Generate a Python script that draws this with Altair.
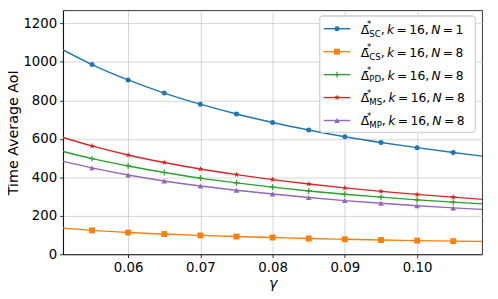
import math
import altair as alt
import pandas as pd

# ---------------- data ----------------
gamma = [0.051, 0.055, 0.060, 0.065, 0.070, 0.075, 0.080, 0.085, 0.090, 0.095, 0.100, 0.105, 0.109]
aoi_sc = [1062, 986, 906, 838, 780, 729, 685, 646, 611, 581, 554, 529, 510]
aoi_cs = [136, 124, 113, 105, 98, 92, 87, 82, 78, 74, 71, 68, 66]
aoi_pd = [534, 497, 459, 425, 396, 371, 349, 329, 312, 297, 283, 271, 262]
aoi_ms = [607, 563, 516, 477, 443, 414, 388, 365, 345, 327, 311, 297, 285]
aoi_mp = [483, 449, 412, 381, 355, 333, 313, 295, 279, 265, 252, 241, 233]

series_keys = ["SC", "CS", "PD", "MS", "MP"]
series_N = ["1", "8", "8", "8", "8"]
colors = ["#1f77b4", "#ff7f0e", "#2ca02c", "#d62728", "#9467bd"]
x_ticks = [0.06, 0.07, 0.08, 0.09, 0.10]
y_ticks = [0, 200, 400, 600, 800, 1000, 1200]

values = [aoi_sc, aoi_cs, aoi_pd, aoi_ms, aoi_mp]
rows = []
for key, vals in zip(series_keys, values):
    for g, v in zip(gamma, vals):
        rows.append({"series": key, "gamma": g, "aoi": v})
df = pd.DataFrame(rows)
df_mark = df[(df.gamma > 0.054) & (df.gamma < 0.106)]

# ---------------- styling ----------------
W, H = 426, 248
FONT = "DejaVu Sans"
color_scale = alt.Scale(domain=series_keys, range=colors)

pts = []
for k in range(10):
    a = -math.pi / 2 + k * math.pi / 5
    r = 1.0 if k % 2 == 0 else 0.40
    pts.append(f"{r*math.cos(a):.3f},{r*math.sin(a):.3f}")
star = "M" + "L".join(pts) + "Z"
plus = "M-1,0L1,0M0,-1L0,1"

marker_spec = {
    "SC": dict(shape="circle", size=26, filled=True),
    "CS": dict(shape="square", size=36, filled=True),
    "PD": dict(shape=plus, size=36, filled=False),
    "MS": dict(shape=star, size=40, filled=True),
    "MP": dict(shape="triangle-up", size=34, filled=True),
}


def mk(key):
    m = marker_spec[key]
    kw = dict(shape=m["shape"], size=m["size"], filled=m["filled"], opacity=1)
    kw["strokeWidth"] = 1.2 if not m["filled"] else 0
    return kw


xs = alt.X("gamma:Q", scale=alt.Scale(domain=[0.051, 0.109], nice=False, zero=False),
           axis=alt.Axis(values=x_ticks, format=".2f", title="γ", titleFontStyle="italic",
                         titlePadding=3))
ys = alt.Y("aoi:Q", scale=alt.Scale(domain=[0, 1268], nice=False),
           axis=alt.Axis(values=y_ticks, format="d", title="Time Average AoI", titlePadding=2))
col = alt.Color("series:N", scale=color_scale, legend=None)

base_chart = alt.Chart(df)
main_layers = [base_chart.mark_line(strokeWidth=1.4, interpolate="monotone", clip=True).encode(
    x=xs, y=ys, color=col, detail="series:N")]
for key in series_keys:
    main_layers.append(alt.Chart(df_mark[df_mark.series == key]).mark_point(**mk(key)).encode(
        x=xs, y=ys, color=col))
main = alt.layer(*main_layers)

# ---------------- custom legend ----------------
adv = {"Δ": 0.684, "S": 0.635, "C": 0.698, "P": 0.603, "D": 0.770, "M": 0.863,
       ",": 0.318, "k": 0.579, "=": 0.838, "1": 0.636, "6": 0.636, "8": 0.636, "N": 0.748}
fs = 12.5
ss = fs * 0.7
sp = 0.2 * 0.974 * fs
T = 302.7
row_base0, row_step = 23.7, 23.33

leg_rows, up_pieces, it_pieces = [], [], []
for i, key in enumerate(series_keys):
    base = row_base0 + row_step * i
    leg_rows.append({"series": key, "ly": base - 5.0})
    x = T
    up_pieces.append({"t": "Δ\u0304", "x": x, "y": base, "s": fs})
    x += adv["Δ"] * fs
    up_pieces.append({"t": "*", "x": x - 2.2, "y": base - 6.5, "s": ss})
    up_pieces.append({"t": key, "x": x, "y": base + 3.0, "s": ss})
    x += sum(adv[c] for c in key) * ss
    up_pieces.append({"t": ",", "x": x, "y": base, "s": fs})
    x += adv[","] * fs + sp
    it_pieces.append({"t": "k", "x": x, "y": base, "s": fs})
    x += adv["k"] * fs + sp
    up_pieces.append({"t": "=", "x": x, "y": base, "s": fs})
    x += adv["="] * fs + sp
    up_pieces.append({"t": "16,", "x": x, "y": base, "s": fs})
    x += (2 * adv["1"] + adv[","]) * fs + sp
    it_pieces.append({"t": "N", "x": x, "y": base, "s": fs})
    x += adv["N"] * fs + sp
    up_pieces.append({"t": "=", "x": x, "y": base, "s": fs})
    x += adv["="] * fs + sp
    up_pieces.append({"t": series_N[i], "x": x, "y": base, "s": fs})

leg_df = pd.DataFrame(leg_rows)
up_df = pd.DataFrame(up_pieces)
it_df = pd.DataFrame(it_pieces)

ly = alt.Y("ly:Q", scale=None, axis=None)
leg_layers = [
    alt.Chart(leg_df).mark_rect(fill="white", fillOpacity=0.85, stroke="#d0d0d0",
                                strokeWidth=1, cornerRadius=3).encode(
        x=alt.value(261), x2=alt.value(419), y=alt.value(6), y2=alt.value(124)),
    alt.Chart(leg_df).mark_rule(strokeWidth=1.4).encode(
        x=alt.value(265), x2=alt.value(292), y=ly, color=col),
]
for key in series_keys:
    leg_layers.append(alt.Chart(leg_df[leg_df.series == key]).mark_point(**mk(key)).encode(
        x=alt.value(278.5), y=ly, color=col))

tx = alt.X("x:Q", scale=None, axis=None)
ty = alt.Y("y:Q", scale=None, axis=None)
tsize = alt.Size("s:Q", scale=None, legend=None)
leg_layers.append(alt.Chart(up_df).mark_text(align="left", baseline="alphabetic", font=FONT,
                                             color="black").encode(
    x=tx, y=ty, text="t:N", size=tsize))
leg_layers.append(alt.Chart(it_df).mark_text(align="left", baseline="alphabetic", font=FONT,
                                             fontStyle="italic", color="black").encode(
    x=tx, y=ty, text="t:N", size=tsize))
legend = alt.layer(*leg_layers)

chart = alt.layer(main, legend).resolve_scale(x="independent", y="independent").properties(
    width=W, height=H,
    autosize=alt.AutoSizeParams(type="none"),
    padding={"left": 56, "top": 0, "right": 8, "bottom": 35},
).configure_axis(
    labelFont=FONT, labelFontSize=13.5, labelColor="black",
    titleFont=FONT, titleFontSize=14.5, titleColor="black", titleFontWeight="normal",
    grid=True, gridColor="#cccccc", gridWidth=0.8,
    domainColor="black", domainWidth=0.8, tickColor="black", tickSize=3.5,
    tickWidth=0.8, labelPadding=3,
).configure_view(stroke="black", strokeWidth=0.8)

chart.save("out.html", embed_options={"renderer": "svg", "actions": False})
